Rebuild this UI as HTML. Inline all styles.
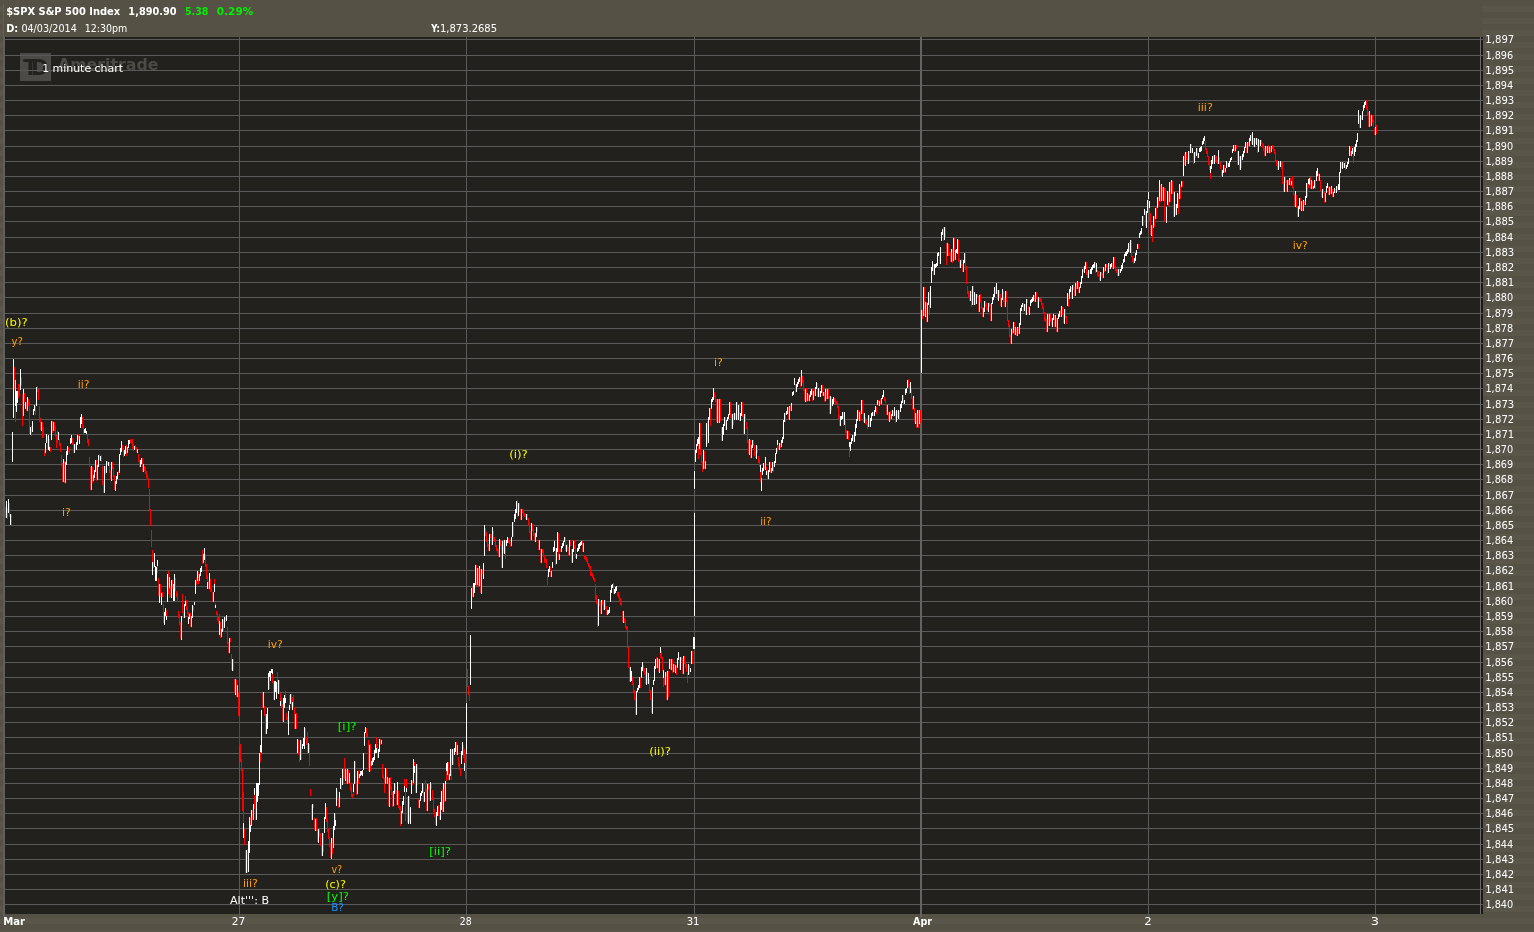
<!DOCTYPE html><html><head><meta charset="utf-8"><title>$SPX S&amp;P 500 Index - 1 minute chart</title>
<style>html,body{margin:0;padding:0;background:#555145;overflow:hidden}svg{display:block}text{white-space:pre}</style></head><body>
<svg width="1534" height="932" viewBox="0 0 1534 932" shape-rendering="crispEdges">
<defs><pattern id="stripes" x="0" y="0" width="4" height="12" patternUnits="userSpaceOnUse"><rect width="4" height="6" y="6" fill="#5a564a"/><rect width="4" height="6" y="0" fill="#555145"/></pattern></defs>
<rect width="1534" height="932" fill="#555145"/>
<rect x="1483" y="0" width="51" height="932" fill="url(#stripes)"/>
<rect x="0" y="0" width="3" height="932" fill="url(#stripes)"/>
<rect x="0" y="914" width="1534" height="18" fill="url(#stripes)"/>
<rect x="3" y="4" width="1" height="913" fill="#5e5f63"/>
<rect x="4" y="37" width="1479" height="877" fill="#22211d"/>
<rect x="3" y="37" width="2" height="880" fill="#5e5f63"/>
<rect x="1481" y="37" width="2" height="877" fill="#1a1916"/>
<rect x="20" y="53" width="31" height="28" fill="#4b4a46"/>
<text x="23.3" y="74.8" font-family="'DejaVu Sans', 'Liberation Sans', sans-serif" font-size="21" font-weight="bold" fill="#23221f">T</text>
<text x="30.9" y="74.8" font-family="'DejaVu Sans', 'Liberation Sans', sans-serif" font-size="21" font-weight="bold" fill="#23221f">D</text>
<text x="57.99" y="69.50" textLength="100.44" lengthAdjust="spacingAndGlyphs" font-family="'DejaVu Sans', 'Liberation Sans', sans-serif" font-size="16" font-weight="bold" fill="#4b4a46">Ameritrade</text>
<path fill="#5a5a5a" d="M5 39H1483v1H5zM5 55H1483v1H5zM5 70H1483v1H5zM5 85H1483v1H5zM5 100H1483v1H5zM5 115H1483v1H5zM5 130H1483v1H5zM5 146H1483v1H5zM5 161H1483v1H5zM5 176H1483v1H5zM5 191H1483v1H5zM5 206H1483v1H5zM5 221H1483v1H5zM5 237H1483v1H5zM5 252H1483v1H5zM5 267H1483v1H5zM5 282H1483v1H5zM5 297H1483v1H5zM5 313H1483v1H5zM5 328H1483v1H5zM5 343H1483v1H5zM5 358H1483v1H5zM5 373H1483v1H5zM5 388H1483v1H5zM5 404H1483v1H5zM5 419H1483v1H5zM5 434H1483v1H5zM5 449H1483v1H5zM5 464H1483v1H5zM5 479H1483v1H5zM5 495H1483v1H5zM5 510H1483v1H5zM5 525H1483v1H5zM5 540H1483v1H5zM5 555H1483v1H5zM5 570H1483v1H5zM5 586H1483v1H5zM5 601H1483v1H5zM5 616H1483v1H5zM5 631H1483v1H5zM5 646H1483v1H5zM5 662H1483v1H5zM5 677H1483v1H5zM5 692H1483v1H5zM5 707H1483v1H5zM5 722H1483v1H5zM5 737H1483v1H5zM5 753H1483v1H5zM5 768H1483v1H5zM5 783H1483v1H5zM5 798H1483v1H5zM5 813H1483v1H5zM5 828H1483v1H5zM5 844H1483v1H5zM5 859H1483v1H5zM5 874H1483v1H5zM5 889H1483v1H5zM5 904H1483v1H5z"/>
<path fill="#5a5a5a" d="M239 37h1v880h-1zM466 37h1v880h-1zM694 37h1v880h-1zM1148 37h1v880h-1zM1375 37h1v880h-1z"/>
<rect x="920" y="37" width="2" height="880" fill="#636363"/>
<rect x="1480" y="37" width="1" height="877" fill="#6a6a6a"/>
<path fill="#ff0000" d="M5 507h1v11h-1zM7 508h1v11h-1zM9 503h1v14h-1zM11 514h1v12h-1zM14 367h1v23h-1zM15 406h1v16h-1zM18 384h1v14h-1zM19 384h1v12h-1zM21 377h1v9h-1zM22 394h1v32h-1zM24 393h1v9h-1zM26 402h1v9h-1zM28 399h1v7h-1zM29 401h1v34h-1zM31 426h1v10h-1zM35 406h1v9h-1zM37 386h1v6h-1zM38 389h1v11h-1zM39 406h1v16h-1zM40 418h1v12h-1zM42 422h1v16h-1zM43 427h1v10h-1zM44 449h1v7h-1zM47 436h1v14h-1zM49 439h1v8h-1zM50 447h1v5h-1zM52 421h1v12h-1zM54 422h1v9h-1zM55 426h1v11h-1zM56 435h1v13h-1zM57 431h1v12h-1zM59 439h1v7h-1zM60 443h1v9h-1zM61 455h1v11h-1zM62 463h1v19h-1zM64 461h1v22h-1zM68 447h1v5h-1zM69 450h1v4h-1zM72 438h1v7h-1zM73 442h1v11h-1zM75 444h1v6h-1zM78 434h1v6h-1zM82 417h1v11h-1zM83 426h1v9h-1zM87 435h1v8h-1zM88 439h1v7h-1zM89 457h1v10h-1zM90 467h1v23h-1zM92 467h1v16h-1zM96 460h1v21h-1zM99 454h1v6h-1zM101 455h1v7h-1zM102 466h1v19h-1zM103 481h1v12h-1zM105 466h1v8h-1zM107 461h1v3h-1zM109 462h1v11h-1zM110 470h1v10h-1zM112 462h1v7h-1zM113 467h1v10h-1zM114 475h1v15h-1zM118 471h1v4h-1zM122 445h1v5h-1zM123 448h1v9h-1zM126 445h1v11h-1zM130 439h1v4h-1zM131 440h1v4h-1zM132 439h1v10h-1zM133 444h1v7h-1zM135 445h1v5h-1zM136 447h1v5h-1zM138 454h1v8h-1zM139 460h1v7h-1zM142 458h1v14h-1zM144 466h1v5h-1zM145 467h1v7h-1zM146 471h1v7h-1zM147 475h1v5h-1zM148 478h1v10h-1zM149 489h1v21h-1zM150 509h1v17h-1zM151 530h1v17h-1zM152 550h1v12h-1zM153 562h1v6h-1zM157 566h1v7h-1zM158 578h1v18h-1zM160 584h1v13h-1zM162 592h1v5h-1zM163 604h1v19h-1zM166 610h1v6h-1zM168 571h1v23h-1zM169 588h1v10h-1zM170 586h1v11h-1zM172 580h1v9h-1zM175 578h1v13h-1zM176 591h1v6h-1zM177 593h1v8h-1zM178 611h1v7h-1zM179 614h1v11h-1zM180 622h1v17h-1zM182 594h1v19h-1zM183 612h1v6h-1zM185 596h1v5h-1zM186 600h1v10h-1zM187 607h1v7h-1zM188 612h1v5h-1zM190 613h1v14h-1zM193 606h1v5h-1zM196 578h1v7h-1zM198 572h1v12h-1zM202 550h1v14h-1zM205 554h1v13h-1zM206 564h1v15h-1zM207 575h1v7h-1zM208 581h1v8h-1zM210 579h1v13h-1zM211 588h1v4h-1zM212 592h1v10h-1zM214 579h1v5h-1zM215 603h1v2h-1zM216 611h1v4h-1zM217 613h1v8h-1zM218 617h1v7h-1zM219 614h1v7h-1zM220 622h1v16h-1zM223 620h1v12h-1zM225 616h1v6h-1zM227 627h1v17h-1zM228 642h1v11h-1zM230 638h1v4h-1zM231 654h1v16h-1zM233 659h1v12h-1zM234 679h1v14h-1zM236 680h1v17h-1zM238 692h1v24h-1zM239 716h1v30h-1zM240 744h1v18h-1zM241 759h1v12h-1zM242 769h1v42h-1zM243 792h1v31h-1zM244 829h1v16h-1zM245 850h1v23h-1zM247 849h1v24h-1zM250 817h1v8h-1zM252 810h1v10h-1zM254 795h1v14h-1zM255 796h1v24h-1zM260 752h1v10h-1zM262 693h1v15h-1zM264 706h1v10h-1zM265 714h1v20h-1zM269 677h1v12h-1zM272 674h1v9h-1zM273 681h1v19h-1zM277 672h1v21h-1zM279 680h1v14h-1zM280 693h1v8h-1zM281 697h1v10h-1zM282 704h1v17h-1zM285 691h1v7h-1zM286 713h1v7h-1zM287 717h1v7h-1zM289 695h1v10h-1zM291 694h1v14h-1zM292 697h1v5h-1zM293 695h1v13h-1zM294 707h1v22h-1zM296 713h1v16h-1zM298 740h1v15h-1zM299 752h1v10h-1zM301 740h1v20h-1zM305 728h1v11h-1zM306 737h1v8h-1zM307 732h1v21h-1zM309 744h1v22h-1zM310 789h1v7h-1zM311 805h1v15h-1zM313 804h1v4h-1zM314 818h1v12h-1zM316 818h1v13h-1zM317 828h1v14h-1zM319 828h1v9h-1zM320 833h1v13h-1zM321 844h1v12h-1zM323 833h1v19h-1zM326 807h1v15h-1zM327 819h1v13h-1zM328 828h1v11h-1zM329 837h1v10h-1zM330 843h1v15h-1zM332 838h1v16h-1zM335 814h1v6h-1zM337 791h1v9h-1zM338 798h1v10h-1zM341 778h1v12h-1zM343 769h1v15h-1zM344 758h1v21h-1zM346 770h1v14h-1zM348 770h1v14h-1zM350 783h1v8h-1zM351 787h1v10h-1zM352 794h1v4h-1zM353 792h1v4h-1zM355 761h1v23h-1zM356 781h1v14h-1zM358 770h1v14h-1zM366 728h1v9h-1zM367 733h1v4h-1zM368 740h1v31h-1zM370 744h1v27h-1zM376 737h1v11h-1zM377 744h1v14h-1zM380 739h1v6h-1zM382 764h1v14h-1zM383 775h1v4h-1zM384 778h1v15h-1zM386 768h1v16h-1zM388 778h1v28h-1zM390 777h1v13h-1zM391 786h1v9h-1zM392 792h1v15h-1zM395 784h1v9h-1zM396 790h1v15h-1zM398 791h1v17h-1zM399 806h1v4h-1zM400 806h1v20h-1zM404 779h1v7h-1zM405 792h1v29h-1zM406 779h1v9h-1zM407 797h1v26h-1zM409 796h1v27h-1zM412 781h1v4h-1zM414 762h1v4h-1zM415 766h1v27h-1zM417 764h1v21h-1zM418 799h1v9h-1zM423 783h1v19h-1zM425 780h1v12h-1zM426 789h1v22h-1zM428 784h1v6h-1zM429 786h1v15h-1zM431 783h1v6h-1zM432 790h1v10h-1zM433 797h1v15h-1zM434 809h1v8h-1zM435 815h1v10h-1zM438 805h1v11h-1zM439 812h1v8h-1zM442 789h1v23h-1zM444 784h1v18h-1zM446 771h1v10h-1zM448 762h1v18h-1zM451 749h1v31h-1zM453 749h1v16h-1zM456 742h1v13h-1zM458 757h1v10h-1zM459 763h1v7h-1zM460 768h1v8h-1zM463 745h1v13h-1zM464 749h1v14h-1zM465 753h1v26h-1zM467 669h1v18h-1zM468 686h1v9h-1zM469 694h1v7h-1zM472 587h1v10h-1zM476 565h1v21h-1zM478 568h1v18h-1zM480 569h1v24h-1zM482 570h1v4h-1zM485 528h1v8h-1zM486 532h1v10h-1zM487 539h1v8h-1zM488 544h1v7h-1zM490 534h1v4h-1zM491 534h1v11h-1zM493 531h1v9h-1zM494 537h1v5h-1zM495 539h1v8h-1zM496 545h1v6h-1zM497 548h1v5h-1zM498 549h1v8h-1zM500 540h1v6h-1zM501 544h1v24h-1zM503 541h1v12h-1zM505 541h1v18h-1zM508 538h1v5h-1zM509 540h1v4h-1zM510 542h1v5h-1zM513 522h1v15h-1zM517 500h1v17h-1zM519 503h1v9h-1zM520 509h1v11h-1zM522 509h1v4h-1zM523 510h1v6h-1zM524 513h1v4h-1zM525 514h1v5h-1zM527 514h1v6h-1zM528 518h1v8h-1zM529 523h1v10h-1zM530 531h1v9h-1zM532 524h1v7h-1zM533 529h1v7h-1zM534 533h1v8h-1zM537 527h1v5h-1zM538 540h1v10h-1zM540 549h1v14h-1zM542 549h1v4h-1zM543 550h1v7h-1zM544 555h1v8h-1zM545 558h1v4h-1zM546 559h1v9h-1zM547 575h1v10h-1zM550 567h1v10h-1zM555 548h1v17h-1zM558 533h1v27h-1zM560 549h1v3h-1zM565 537h1v14h-1zM567 544h1v7h-1zM568 547h1v9h-1zM570 540h1v6h-1zM571 549h1v14h-1zM574 540h1v9h-1zM575 545h1v13h-1zM582 541h1v11h-1zM584 555h1v4h-1zM585 556h1v4h-1zM586 557h1v5h-1zM587 559h1v5h-1zM588 563h1v4h-1zM589 565h1v4h-1zM590 566h1v10h-1zM591 572h1v4h-1zM592 573h1v5h-1zM593 575h1v5h-1zM594 578h1v4h-1zM595 584h1v16h-1zM596 595h1v9h-1zM597 602h1v25h-1zM599 599h1v7h-1zM600 602h1v12h-1zM602 600h1v5h-1zM603 601h1v9h-1zM605 600h1v9h-1zM606 606h1v9h-1zM613 583h1v11h-1zM617 592h1v4h-1zM618 592h1v6h-1zM619 595h1v6h-1zM620 598h1v7h-1zM621 603h1v3h-1zM622 611h1v11h-1zM624 618h1v5h-1zM625 620h1v8h-1zM626 626h1v4h-1zM627 627h1v21h-1zM628 647h1v21h-1zM629 666h1v16h-1zM632 677h1v8h-1zM633 683h1v10h-1zM634 690h1v10h-1zM635 697h1v18h-1zM640 677h1v11h-1zM643 665h1v7h-1zM644 668h1v7h-1zM645 671h1v13h-1zM647 672h1v12h-1zM649 679h1v14h-1zM650 690h1v10h-1zM651 698h1v15h-1zM656 657h1v11h-1zM658 659h1v13h-1zM660 653h1v5h-1zM661 651h1v8h-1zM662 657h1v14h-1zM663 678h1v9h-1zM664 677h1v8h-1zM666 672h1v28h-1zM668 671h1v26h-1zM670 659h1v11h-1zM672 659h1v14h-1zM674 664h1v8h-1zM676 666h1v9h-1zM679 657h1v13h-1zM681 657h1v4h-1zM682 658h1v16h-1zM684 656h1v8h-1zM685 662h1v6h-1zM686 664h1v8h-1zM687 673h1v10h-1zM689 665h1v10h-1zM692 651h1v13h-1zM698 444h1v15h-1zM700 423h1v32h-1zM701 452h1v11h-1zM702 461h1v11h-1zM704 451h1v18h-1zM707 421h1v23h-1zM710 408h1v18h-1zM714 392h1v6h-1zM715 395h1v7h-1zM716 399h1v23h-1zM718 399h1v24h-1zM720 399h1v22h-1zM721 427h1v14h-1zM725 417h1v13h-1zM730 402h1v16h-1zM731 414h1v15h-1zM733 413h1v12h-1zM735 413h1v7h-1zM737 402h1v18h-1zM739 405h1v16h-1zM742 402h1v15h-1zM743 415h1v19h-1zM745 414h1v8h-1zM746 422h1v7h-1zM747 427h1v16h-1zM748 440h1v14h-1zM750 440h1v18h-1zM753 440h1v6h-1zM754 445h1v11h-1zM755 451h1v7h-1zM757 446h1v7h-1zM758 456h1v7h-1zM759 459h1v8h-1zM760 472h1v10h-1zM761 470h1v8h-1zM764 463h1v6h-1zM766 467h1v4h-1zM767 470h1v10h-1zM770 462h1v11h-1zM773 462h1v10h-1zM777 445h1v7h-1zM778 446h1v4h-1zM780 443h1v5h-1zM785 413h1v9h-1zM788 407h1v13h-1zM790 405h1v6h-1zM795 384h1v9h-1zM800 377h1v10h-1zM802 376h1v7h-1zM803 380h1v11h-1zM804 388h1v13h-1zM806 388h1v14h-1zM808 394h1v7h-1zM812 389h1v12h-1zM814 389h1v7h-1zM817 383h1v14h-1zM819 387h1v10h-1zM822 385h1v11h-1zM824 392h1v10h-1zM826 389h1v10h-1zM828 389h1v10h-1zM829 396h1v18h-1zM831 397h1v14h-1zM834 398h1v4h-1zM835 399h1v5h-1zM836 401h1v4h-1zM837 402h1v6h-1zM838 406h1v13h-1zM839 415h1v11h-1zM843 412h1v14h-1zM845 421h1v12h-1zM846 430h1v9h-1zM848 431h1v9h-1zM849 447h1v10h-1zM853 434h1v8h-1zM858 410h1v10h-1zM860 411h1v10h-1zM862 400h1v14h-1zM863 413h1v9h-1zM865 417h1v7h-1zM866 420h1v5h-1zM867 423h1v6h-1zM869 415h1v12h-1zM873 412h1v4h-1zM876 407h1v7h-1zM878 400h1v6h-1zM880 399h1v6h-1zM884 397h1v4h-1zM885 399h1v4h-1zM886 405h1v10h-1zM888 412h1v9h-1zM890 411h1v8h-1zM893 411h1v6h-1zM895 411h1v12h-1zM897 411h1v7h-1zM899 411h1v8h-1zM903 395h1v9h-1zM908 379h1v8h-1zM909 384h1v10h-1zM911 389h1v10h-1zM912 398h1v12h-1zM914 408h1v14h-1zM916 413h1v15h-1zM918 410h1v18h-1zM920 410h1v13h-1zM922 310h1v9h-1zM924 287h1v29h-1zM926 302h1v20h-1zM929 291h1v24h-1zM933 264h1v11h-1zM939 253h1v11h-1zM943 227h1v14h-1zM945 227h1v11h-1zM946 243h1v22h-1zM948 244h1v12h-1zM949 252h1v4h-1zM950 252h1v10h-1zM952 249h1v14h-1zM954 238h1v22h-1zM958 240h1v22h-1zM959 259h1v8h-1zM961 259h1v7h-1zM962 264h1v8h-1zM965 252h1v18h-1zM966 266h1v18h-1zM967 286h1v8h-1zM968 291h1v7h-1zM969 295h1v6h-1zM971 290h1v17h-1zM973 286h1v19h-1zM975 294h1v11h-1zM977 294h1v4h-1zM978 296h1v16h-1zM980 294h1v8h-1zM981 301h1v8h-1zM982 307h1v10h-1zM985 301h1v6h-1zM986 303h1v7h-1zM987 307h1v4h-1zM989 303h1v4h-1zM990 304h1v17h-1zM995 286h1v8h-1zM997 290h1v10h-1zM999 290h1v8h-1zM1000 294h1v12h-1zM1003 291h1v11h-1zM1004 298h1v9h-1zM1006 291h1v11h-1zM1007 300h1v21h-1zM1008 320h1v7h-1zM1009 325h1v12h-1zM1010 335h1v9h-1zM1012 330h1v4h-1zM1014 322h1v13h-1zM1016 328h1v8h-1zM1018 327h1v7h-1zM1023 303h1v9h-1zM1025 304h1v11h-1zM1027 299h1v4h-1zM1028 306h1v8h-1zM1034 295h1v7h-1zM1036 292h1v7h-1zM1037 297h1v11h-1zM1039 297h1v4h-1zM1040 298h1v4h-1zM1041 299h1v6h-1zM1042 303h1v6h-1zM1043 307h1v7h-1zM1044 312h1v9h-1zM1045 317h1v5h-1zM1046 319h1v13h-1zM1048 314h1v12h-1zM1050 314h1v8h-1zM1051 318h1v7h-1zM1054 315h1v12h-1zM1056 318h1v14h-1zM1060 310h1v7h-1zM1062 307h1v8h-1zM1063 313h1v10h-1zM1065 309h1v9h-1zM1066 316h1v8h-1zM1068 294h1v13h-1zM1071 287h1v12h-1zM1073 284h1v6h-1zM1074 287h1v9h-1zM1076 282h1v7h-1zM1078 282h1v11h-1zM1083 268h1v4h-1zM1086 262h1v13h-1zM1087 272h1v6h-1zM1089 270h1v4h-1zM1095 262h1v11h-1zM1097 270h1v6h-1zM1098 271h1v6h-1zM1099 274h1v7h-1zM1101 272h1v4h-1zM1102 273h1v5h-1zM1104 267h1v5h-1zM1106 264h1v4h-1zM1107 265h1v9h-1zM1109 263h1v6h-1zM1112 263h1v6h-1zM1114 257h1v11h-1zM1115 266h1v5h-1zM1116 269h1v4h-1zM1117 269h1v7h-1zM1119 269h1v7h-1zM1129 242h1v11h-1zM1131 240h1v17h-1zM1132 256h1v6h-1zM1133 259h1v5h-1zM1138 244h1v5h-1zM1143 216h1v10h-1zM1145 211h1v15h-1zM1149 208h1v14h-1zM1150 213h1v22h-1zM1152 225h1v17h-1zM1154 216h1v11h-1zM1156 207h1v12h-1zM1158 197h1v10h-1zM1160 185h1v17h-1zM1162 187h1v14h-1zM1164 188h1v34h-1zM1165 188h1v13h-1zM1168 192h1v14h-1zM1170 182h1v20h-1zM1172 181h1v13h-1zM1173 192h1v25h-1zM1175 204h1v11h-1zM1178 194h1v20h-1zM1180 185h1v14h-1zM1182 181h1v6h-1zM1184 154h1v11h-1zM1186 152h1v8h-1zM1187 158h1v6h-1zM1189 151h1v12h-1zM1191 144h1v9h-1zM1193 153h1v11h-1zM1195 152h1v6h-1zM1197 148h1v10h-1zM1205 141h1v9h-1zM1206 148h1v6h-1zM1207 151h1v6h-1zM1208 156h1v9h-1zM1209 163h1v7h-1zM1210 173h1v6h-1zM1213 155h1v9h-1zM1215 155h1v6h-1zM1216 156h1v7h-1zM1217 160h1v4h-1zM1219 157h1v7h-1zM1220 162h1v7h-1zM1221 169h1v8h-1zM1224 165h1v8h-1zM1227 161h1v7h-1zM1234 145h1v7h-1zM1236 145h1v4h-1zM1237 151h1v14h-1zM1239 156h1v14h-1zM1241 156h1v12h-1zM1246 143h1v10h-1zM1248 142h1v4h-1zM1251 134h1v10h-1zM1253 138h1v8h-1zM1255 138h1v6h-1zM1257 138h1v15h-1zM1259 140h1v7h-1zM1261 140h1v4h-1zM1262 143h1v5h-1zM1263 144h1v7h-1zM1264 148h1v8h-1zM1266 146h1v5h-1zM1268 145h1v8h-1zM1270 147h1v6h-1zM1272 145h1v4h-1zM1273 147h1v4h-1zM1274 149h1v5h-1zM1275 152h1v9h-1zM1276 160h1v6h-1zM1277 162h1v8h-1zM1279 161h1v6h-1zM1281 161h1v8h-1zM1282 162h1v22h-1zM1283 182h1v9h-1zM1285 177h1v6h-1zM1286 180h1v12h-1zM1288 180h1v5h-1zM1290 178h1v8h-1zM1292 176h1v12h-1zM1293 187h1v8h-1zM1294 194h1v12h-1zM1296 195h1v13h-1zM1297 206h1v11h-1zM1300 198h1v12h-1zM1302 201h1v10h-1zM1304 201h1v4h-1zM1307 183h1v14h-1zM1308 184h1v4h-1zM1310 177h1v12h-1zM1312 181h1v8h-1zM1315 180h1v9h-1zM1318 173h1v8h-1zM1320 180h1v11h-1zM1321 190h1v7h-1zM1323 189h1v4h-1zM1324 192h1v11h-1zM1328 186h1v9h-1zM1330 187h1v7h-1zM1332 189h1v8h-1zM1335 189h1v4h-1zM1337 186h1v6h-1zM1341 161h1v7h-1zM1343 161h1v7h-1zM1345 162h1v8h-1zM1350 146h1v10h-1zM1353 147h1v16h-1zM1359 115h1v13h-1zM1361 116h1v4h-1zM1366 100h1v10h-1zM1367 106h1v10h-1zM1368 112h1v15h-1zM1370 115h1v11h-1zM1372 115h1v8h-1zM1373 120h1v7h-1zM1374 128h1v7h-1zM1376 125h1v9h-1z"/><path fill="#ffffff" d="M6 501h1v17h-1zM8 499h1v14h-1zM10 514h1v11h-1zM12 432h1v30h-1zM13 359h1v59h-1zM15 380h1v26h-1zM16 391h1v21h-1zM17 391h1v12h-1zM20 369h1v21h-1zM23 389h1v27h-1zM25 402h1v7h-1zM27 397h1v14h-1zM30 427h1v8h-1zM32 421h1v11h-1zM33 409h1v6h-1zM34 405h1v6h-1zM36 387h1v19h-1zM41 422h1v9h-1zM45 443h1v10h-1zM46 434h1v9h-1zM48 435h1v15h-1zM49 447h1v4h-1zM51 421h1v19h-1zM53 422h1v9h-1zM58 432h1v8h-1zM63 459h1v23h-1zM65 462h1v21h-1zM66 451h1v14h-1zM67 446h1v9h-1zM70 438h1v6h-1zM71 435h1v8h-1zM74 444h1v9h-1zM76 442h1v8h-1zM77 435h1v10h-1zM79 436h1v8h-1zM80 417h1v11h-1zM81 414h1v10h-1zM84 429h1v4h-1zM85 428h1v5h-1zM86 431h1v3h-1zM91 466h1v24h-1zM93 475h1v6h-1zM94 470h1v8h-1zM95 460h1v12h-1zM97 465h1v15h-1zM98 455h1v12h-1zM100 456h1v5h-1zM104 466h1v27h-1zM106 461h1v12h-1zM108 462h1v4h-1zM111 462h1v19h-1zM115 481h1v10h-1zM116 476h1v8h-1zM117 472h1v7h-1zM119 454h1v19h-1zM120 448h1v7h-1zM121 441h1v11h-1zM124 450h1v6h-1zM125 446h1v8h-1zM127 447h1v6h-1zM128 440h1v8h-1zM129 440h1v4h-1zM134 446h1v4h-1zM137 449h1v4h-1zM140 460h1v7h-1zM141 458h1v6h-1zM143 464h1v8h-1zM152 562h1v13h-1zM154 553h1v14h-1zM155 566h1v15h-1zM156 567h1v14h-1zM157 560h1v6h-1zM159 584h1v19h-1zM161 593h1v12h-1zM164 612h1v13h-1zM165 608h1v8h-1zM166 616h1v4h-1zM167 574h1v28h-1zM169 577h1v11h-1zM171 580h1v18h-1zM173 584h1v17h-1zM174 574h1v27h-1zM181 616h1v24h-1zM184 604h1v14h-1zM185 601h1v5h-1zM188 617h1v7h-1zM189 614h1v5h-1zM191 616h1v11h-1zM192 605h1v13h-1zM194 602h1v3h-1zM195 580h1v14h-1zM197 571h1v10h-1zM199 574h1v7h-1zM200 568h1v8h-1zM201 566h1v6h-1zM203 554h1v9h-1zM204 548h1v12h-1zM207 582h1v7h-1zM209 573h1v16h-1zM213 592h1v10h-1zM214 584h1v8h-1zM215 605h1v3h-1zM219 621h1v14h-1zM221 629h1v8h-1zM222 619h1v13h-1zM224 617h1v11h-1zM226 615h1v6h-1zM229 638h1v15h-1zM232 659h1v12h-1zM235 679h1v16h-1zM237 685h1v12h-1zM243 823h1v15h-1zM246 850h1v23h-1zM248 841h1v31h-1zM249 817h1v36h-1zM250 825h1v7h-1zM251 810h1v16h-1zM253 804h1v16h-1zM254 788h1v7h-1zM256 783h1v37h-1zM257 783h1v19h-1zM258 783h1v13h-1zM259 753h1v32h-1zM260 745h1v7h-1zM261 710h1v43h-1zM263 692h1v16h-1zM266 714h1v20h-1zM267 708h1v21h-1zM268 673h1v17h-1zM269 671h1v6h-1zM270 671h1v10h-1zM271 669h1v4h-1zM272 669h1v5h-1zM274 681h1v19h-1zM275 681h1v11h-1zM276 682h1v17h-1zM278 680h1v14h-1zM280 701h1v5h-1zM283 698h1v24h-1zM284 695h1v13h-1zM285 698h1v5h-1zM288 711h1v24h-1zM289 705h1v5h-1zM290 694h1v10h-1zM292 702h1v8h-1zM295 714h1v15h-1zM297 739h1v14h-1zM300 740h1v20h-1zM302 744h1v5h-1zM303 738h1v8h-1zM304 727h1v22h-1zM308 743h1v10h-1zM312 804h1v16h-1zM315 819h1v12h-1zM318 829h1v14h-1zM322 833h1v23h-1zM324 817h1v16h-1zM325 803h1v16h-1zM331 838h1v21h-1zM333 826h1v22h-1zM334 813h1v17h-1zM335 820h1v6h-1zM336 788h1v18h-1zM339 792h1v15h-1zM340 778h1v11h-1zM342 769h1v16h-1zM345 769h1v12h-1zM347 769h1v15h-1zM349 773h1v10h-1zM353 784h1v8h-1zM354 761h1v23h-1zM357 771h1v23h-1zM359 774h1v4h-1zM360 771h1v5h-1zM361 771h1v4h-1zM362 770h1v6h-1zM363 753h1v17h-1zM364 732h1v14h-1zM365 727h1v6h-1zM369 745h1v27h-1zM371 761h1v5h-1zM372 758h1v7h-1zM373 757h1v5h-1zM374 750h1v10h-1zM375 744h1v9h-1zM376 748h1v5h-1zM378 749h1v9h-1zM379 739h1v13h-1zM381 740h1v4h-1zM385 768h1v16h-1zM387 777h1v7h-1zM389 778h1v29h-1zM393 791h1v15h-1zM394 783h1v11h-1zM397 782h1v23h-1zM401 811h1v13h-1zM402 801h1v12h-1zM403 796h1v9h-1zM404 786h1v6h-1zM406 788h1v4h-1zM408 796h1v28h-1zM410 807h1v17h-1zM411 780h1v14h-1zM413 759h1v24h-1zM414 766h1v7h-1zM416 764h1v29h-1zM419 800h1v8h-1zM420 793h1v8h-1zM421 791h1v5h-1zM422 783h1v10h-1zM424 792h1v10h-1zM427 784h1v27h-1zM430 782h1v19h-1zM436 812h1v14h-1zM437 806h1v10h-1zM440 802h1v18h-1zM441 791h1v19h-1zM443 783h1v29h-1zM445 781h1v20h-1zM446 763h1v8h-1zM447 762h1v13h-1zM449 774h1v6h-1zM450 749h1v27h-1zM452 749h1v16h-1zM454 748h1v7h-1zM455 742h1v10h-1zM457 745h1v10h-1zM461 751h1v13h-1zM462 742h1v13h-1zM464 763h1v8h-1zM466 703h1v51h-1zM470 635h1v50h-1zM471 588h1v21h-1zM473 583h1v14h-1zM474 583h1v10h-1zM475 565h1v20h-1zM477 568h1v17h-1zM479 566h1v20h-1zM481 569h1v25h-1zM483 563h1v16h-1zM484 525h1v31h-1zM489 534h1v17h-1zM492 527h1v18h-1zM499 539h1v18h-1zM502 541h1v27h-1zM504 540h1v14h-1zM506 540h1v6h-1zM507 537h1v6h-1zM511 537h1v9h-1zM512 522h1v15h-1zM514 514h1v8h-1zM515 509h1v10h-1zM516 501h1v12h-1zM518 503h1v13h-1zM521 509h1v11h-1zM526 514h1v6h-1zM531 523h1v17h-1zM535 533h1v9h-1zM536 527h1v10h-1zM539 540h1v10h-1zM541 549h1v14h-1zM548 569h1v8h-1zM549 566h1v6h-1zM551 571h1v6h-1zM552 562h1v6h-1zM553 547h1v5h-1zM554 541h1v10h-1zM556 548h1v16h-1zM557 532h1v20h-1zM559 554h1v6h-1zM561 546h1v6h-1zM562 543h1v5h-1zM563 541h1v5h-1zM564 537h1v5h-1zM566 545h1v7h-1zM569 540h1v15h-1zM572 549h1v14h-1zM573 541h1v11h-1zM576 554h1v5h-1zM577 548h1v4h-1zM578 544h1v7h-1zM579 543h1v6h-1zM580 542h1v4h-1zM581 541h1v4h-1zM583 543h1v9h-1zM598 599h1v27h-1zM601 600h1v14h-1zM604 600h1v10h-1zM607 610h1v5h-1zM608 610h1v4h-1zM609 607h1v6h-1zM610 590h1v12h-1zM611 585h1v8h-1zM612 584h1v4h-1zM614 589h1v5h-1zM615 587h1v6h-1zM616 586h1v5h-1zM623 611h1v12h-1zM630 667h1v15h-1zM631 671h1v10h-1zM636 691h1v24h-1zM637 688h1v4h-1zM638 685h1v5h-1zM639 677h1v11h-1zM641 667h1v11h-1zM642 662h1v9h-1zM646 668h1v17h-1zM648 673h1v11h-1zM652 687h1v27h-1zM653 680h1v5h-1zM654 666h1v15h-1zM655 659h1v10h-1zM657 658h1v10h-1zM659 659h1v14h-1zM660 647h1v6h-1zM663 670h1v8h-1zM665 672h1v13h-1zM667 671h1v29h-1zM669 659h1v10h-1zM671 659h1v11h-1zM673 664h1v8h-1zM675 665h1v8h-1zM677 658h1v10h-1zM678 652h1v8h-1zM680 657h1v13h-1zM683 656h1v18h-1zM688 664h1v11h-1zM690 668h1v4h-1zM691 651h1v13h-1zM693 637h1v12h-1zM694 471h1v18h-1zM694 513h1v103h-1zM694 637h1v12h-1zM695 450h1v12h-1zM696 444h1v9h-1zM697 439h1v7h-1zM698 437h1v7h-1zM699 423h1v26h-1zM703 450h1v19h-1zM705 461h1v8h-1zM706 423h1v24h-1zM708 417h1v26h-1zM709 408h1v12h-1zM711 399h1v10h-1zM712 397h1v5h-1zM713 388h1v12h-1zM717 399h1v24h-1zM719 399h1v24h-1zM722 427h1v14h-1zM723 424h1v11h-1zM724 417h1v9h-1zM726 420h1v10h-1zM727 417h1v4h-1zM728 414h1v5h-1zM729 402h1v13h-1zM732 414h1v15h-1zM734 413h1v7h-1zM736 402h1v18h-1zM738 405h1v15h-1zM740 413h1v8h-1zM741 402h1v14h-1zM744 414h1v20h-1zM749 439h1v16h-1zM751 445h1v13h-1zM752 440h1v8h-1zM756 445h1v14h-1zM760 465h1v7h-1zM761 478h1v13h-1zM762 468h1v7h-1zM763 463h1v8h-1zM765 457h1v13h-1zM766 471h1v4h-1zM768 470h1v9h-1zM769 462h1v10h-1zM771 468h1v5h-1zM772 462h1v9h-1zM774 461h1v6h-1zM775 453h1v10h-1zM776 448h1v6h-1zM777 440h1v5h-1zM779 443h1v7h-1zM781 440h1v7h-1zM782 437h1v6h-1zM783 420h1v19h-1zM784 413h1v9h-1zM786 411h1v4h-1zM787 407h1v7h-1zM789 406h1v14h-1zM791 403h1v8h-1zM792 392h1v4h-1zM793 391h1v4h-1zM794 378h1v7h-1zM796 384h1v8h-1zM797 382h1v5h-1zM798 379h1v5h-1zM799 377h1v5h-1zM801 370h1v16h-1zM805 389h1v13h-1zM807 393h1v8h-1zM809 395h1v6h-1zM810 391h1v6h-1zM811 389h1v6h-1zM813 391h1v9h-1zM815 387h1v9h-1zM816 382h1v7h-1zM818 388h1v9h-1zM820 391h1v6h-1zM821 385h1v8h-1zM823 392h1v4h-1zM825 389h1v12h-1zM827 389h1v10h-1zM830 396h1v18h-1zM832 399h1v7h-1zM833 397h1v7h-1zM840 416h1v10h-1zM841 416h1v4h-1zM842 412h1v7h-1zM844 412h1v13h-1zM847 431h1v8h-1zM849 442h1v5h-1zM850 442h1v9h-1zM851 438h1v6h-1zM852 435h1v6h-1zM854 432h1v10h-1zM855 424h1v12h-1zM856 419h1v9h-1zM857 410h1v11h-1zM859 412h1v9h-1zM861 400h1v14h-1zM864 413h1v10h-1zM868 415h1v12h-1zM870 418h1v9h-1zM871 413h1v8h-1zM872 412h1v4h-1zM874 410h1v6h-1zM875 406h1v6h-1zM877 400h1v5h-1zM879 401h1v5h-1zM881 398h1v6h-1zM882 395h1v4h-1zM883 390h1v7h-1zM887 405h1v10h-1zM889 412h1v10h-1zM891 414h1v5h-1zM892 410h1v6h-1zM894 407h1v9h-1zM896 410h1v12h-1zM898 410h1v9h-1zM900 404h1v8h-1zM901 401h1v7h-1zM902 395h1v8h-1zM904 400h1v4h-1zM905 389h1v6h-1zM906 388h1v5h-1zM907 380h1v8h-1zM910 382h1v11h-1zM913 396h1v13h-1zM915 413h1v11h-1zM917 410h1v17h-1zM919 410h1v14h-1zM921 310h1v63h-1zM923 287h1v29h-1zM925 302h1v15h-1zM927 303h1v19h-1zM928 292h1v13h-1zM930 286h1v22h-1zM931 267h1v16h-1zM932 261h1v10h-1zM934 264h1v11h-1zM935 264h1v4h-1zM936 263h1v4h-1zM937 253h1v13h-1zM938 252h1v4h-1zM940 247h1v17h-1zM941 232h1v9h-1zM942 229h1v6h-1zM944 227h1v13h-1zM947 243h1v13h-1zM951 249h1v13h-1zM953 238h1v23h-1zM955 250h1v10h-1zM956 249h1v4h-1zM957 239h1v15h-1zM960 260h1v8h-1zM963 260h1v12h-1zM964 253h1v10h-1zM970 291h1v10h-1zM972 286h1v19h-1zM974 292h1v13h-1zM976 294h1v10h-1zM979 295h1v17h-1zM983 308h1v9h-1zM984 301h1v11h-1zM988 303h1v9h-1zM991 303h1v18h-1zM992 297h1v7h-1zM993 294h1v6h-1zM994 287h1v10h-1zM996 283h1v11h-1zM998 290h1v11h-1zM1001 298h1v9h-1zM1002 289h1v11h-1zM1005 291h1v16h-1zM1011 329h1v15h-1zM1013 322h1v11h-1zM1015 327h1v8h-1zM1017 327h1v9h-1zM1019 323h1v11h-1zM1020 308h1v17h-1zM1021 305h1v6h-1zM1022 303h1v4h-1zM1024 304h1v7h-1zM1026 299h1v16h-1zM1029 307h1v8h-1zM1030 300h1v6h-1zM1031 299h1v4h-1zM1032 297h1v5h-1zM1033 295h1v6h-1zM1035 292h1v10h-1zM1038 297h1v11h-1zM1047 314h1v18h-1zM1049 314h1v12h-1zM1052 318h1v9h-1zM1053 314h1v6h-1zM1055 315h1v12h-1zM1057 318h1v14h-1zM1058 314h1v5h-1zM1059 311h1v6h-1zM1061 306h1v11h-1zM1064 309h1v15h-1zM1067 293h1v13h-1zM1069 289h1v10h-1zM1070 286h1v6h-1zM1072 285h1v14h-1zM1075 283h1v13h-1zM1077 281h1v8h-1zM1079 287h1v6h-1zM1080 282h1v6h-1zM1081 276h1v8h-1zM1082 269h1v9h-1zM1084 266h1v7h-1zM1085 262h1v7h-1zM1088 270h1v8h-1zM1090 269h1v5h-1zM1091 267h1v7h-1zM1092 265h1v5h-1zM1093 264h1v4h-1zM1094 262h1v6h-1zM1096 263h1v9h-1zM1100 272h1v9h-1zM1103 267h1v11h-1zM1105 264h1v7h-1zM1108 263h1v10h-1zM1110 264h1v5h-1zM1111 263h1v4h-1zM1113 257h1v12h-1zM1118 269h1v7h-1zM1120 269h1v4h-1zM1121 265h1v6h-1zM1122 263h1v6h-1zM1123 259h1v4h-1zM1124 254h1v8h-1zM1125 252h1v4h-1zM1126 251h1v5h-1zM1127 249h1v5h-1zM1128 243h1v9h-1zM1130 240h1v13h-1zM1134 258h1v5h-1zM1135 253h1v8h-1zM1136 250h1v5h-1zM1137 244h1v5h-1zM1139 233h1v5h-1zM1140 231h1v4h-1zM1141 228h1v6h-1zM1142 216h1v10h-1zM1144 209h1v6h-1zM1146 211h1v17h-1zM1147 200h1v13h-1zM1148 192h1v7h-1zM1149 201h1v7h-1zM1151 225h1v11h-1zM1153 216h1v12h-1zM1155 208h1v11h-1zM1157 197h1v11h-1zM1159 180h1v21h-1zM1161 184h1v17h-1zM1163 187h1v14h-1zM1166 207h1v16h-1zM1167 191h1v14h-1zM1169 182h1v20h-1zM1171 180h1v14h-1zM1174 192h1v25h-1zM1176 204h1v11h-1zM1177 193h1v15h-1zM1179 184h1v15h-1zM1181 181h1v6h-1zM1183 156h1v20h-1zM1185 152h1v14h-1zM1188 151h1v13h-1zM1190 144h1v9h-1zM1192 148h1v5h-1zM1194 152h1v11h-1zM1196 148h1v8h-1zM1198 153h1v5h-1zM1199 148h1v4h-1zM1200 147h1v5h-1zM1201 146h1v5h-1zM1202 141h1v4h-1zM1203 138h1v6h-1zM1204 136h1v5h-1zM1210 166h1v7h-1zM1211 160h1v9h-1zM1212 156h1v8h-1zM1214 155h1v9h-1zM1218 150h1v14h-1zM1222 170h1v7h-1zM1223 165h1v8h-1zM1225 168h1v4h-1zM1226 161h1v7h-1zM1228 163h1v4h-1zM1229 161h1v6h-1zM1230 158h1v4h-1zM1231 157h1v3h-1zM1232 149h1v4h-1zM1233 145h1v6h-1zM1235 145h1v6h-1zM1238 151h1v14h-1zM1240 156h1v14h-1zM1242 154h1v6h-1zM1243 151h1v6h-1zM1244 147h1v6h-1zM1245 142h1v6h-1zM1247 142h1v11h-1zM1249 138h1v8h-1zM1250 135h1v6h-1zM1252 132h1v13h-1zM1254 138h1v9h-1zM1256 138h1v7h-1zM1258 139h1v13h-1zM1260 140h1v6h-1zM1265 146h1v10h-1zM1267 146h1v7h-1zM1269 147h1v6h-1zM1271 146h1v6h-1zM1278 161h1v9h-1zM1280 161h1v6h-1zM1284 177h1v15h-1zM1287 180h1v12h-1zM1289 178h1v7h-1zM1291 181h1v4h-1zM1295 191h1v16h-1zM1298 206h1v11h-1zM1299 198h1v11h-1zM1301 201h1v10h-1zM1303 200h1v11h-1zM1305 196h1v9h-1zM1306 183h1v15h-1zM1308 179h1v5h-1zM1309 178h1v7h-1zM1311 180h1v9h-1zM1313 186h1v3h-1zM1314 180h1v8h-1zM1316 171h1v10h-1zM1317 168h1v8h-1zM1319 174h1v7h-1zM1322 189h1v9h-1zM1325 193h1v9h-1zM1326 186h1v7h-1zM1327 183h1v5h-1zM1329 187h1v8h-1zM1331 186h1v8h-1zM1333 192h1v5h-1zM1334 188h1v5h-1zM1336 186h1v7h-1zM1338 184h1v6h-1zM1339 172h1v18h-1zM1340 162h1v11h-1zM1342 162h1v7h-1zM1344 163h1v5h-1zM1346 165h1v4h-1zM1347 162h1v5h-1zM1348 158h1v6h-1zM1349 146h1v10h-1zM1351 151h1v5h-1zM1352 148h1v6h-1zM1354 147h1v9h-1zM1355 144h1v8h-1zM1356 140h1v7h-1zM1357 133h1v9h-1zM1358 110h1v14h-1zM1360 115h1v13h-1zM1362 111h1v9h-1zM1363 105h1v6h-1zM1364 102h1v6h-1zM1365 101h1v4h-1zM1369 111h1v16h-1zM1371 115h1v11h-1zM1375 127h1v8h-1z"/>
<text x="6.20" y="15.00" textLength="114.00" lengthAdjust="spacingAndGlyphs" font-family="'DejaVu Sans', 'Liberation Sans', sans-serif" font-size="11" font-weight="bold" fill="#ffffff">$SPX S&amp;P 500 Index</text>
<text x="128.36" y="15.00" textLength="48.26" lengthAdjust="spacingAndGlyphs" font-family="'DejaVu Sans', 'Liberation Sans', sans-serif" font-size="11" font-weight="bold" fill="#ffffff">1,890.90</text>
<text x="185.00" y="15.00" textLength="23.40" lengthAdjust="spacingAndGlyphs" font-family="'DejaVu Sans', 'Liberation Sans', sans-serif" font-size="11" font-weight="bold" fill="#00f000">5.38</text>
<text x="216.80" y="15.00" textLength="36.40" lengthAdjust="spacingAndGlyphs" font-family="'DejaVu Sans', 'Liberation Sans', sans-serif" font-size="11" font-weight="bold" fill="#00f000">0.29%</text>
<text x="6.18" y="32.00" textLength="12.10" lengthAdjust="spacingAndGlyphs" font-family="'DejaVu Sans', 'Liberation Sans', sans-serif" font-size="11" font-weight="bold" fill="#ffffff">D:</text>
<text x="21.39" y="32.00" textLength="55.42" lengthAdjust="spacingAndGlyphs" font-family="'DejaVu Sans', 'Liberation Sans', sans-serif" font-size="11" font-weight="normal" fill="#ffffff">04/03/2014</text>
<text x="84.78" y="32.00" textLength="42.44" lengthAdjust="spacingAndGlyphs" font-family="'DejaVu Sans', 'Liberation Sans', sans-serif" font-size="11" font-weight="normal" fill="#ffffff">12:30pm</text>
<text x="431.15" y="32.00" textLength="8.84" lengthAdjust="spacingAndGlyphs" font-family="'DejaVu Sans', 'Liberation Sans', sans-serif" font-size="11" font-weight="bold" fill="#ffffff">Y:</text>
<text x="439.96" y="32.00" textLength="57.06" lengthAdjust="spacingAndGlyphs" font-family="'DejaVu Sans', 'Liberation Sans', sans-serif" font-size="11" font-weight="normal" fill="#ffffff">1,873.2685</text>
<text x="3.19" y="925.00" textLength="21.81" lengthAdjust="spacingAndGlyphs" font-family="'DejaVu Sans', 'Liberation Sans', sans-serif" font-size="11" font-weight="bold" fill="#ffffff">Mar</text>
<text x="231.69" y="925.00" textLength="13.56" lengthAdjust="spacingAndGlyphs" font-family="'DejaVu Sans', 'Liberation Sans', sans-serif" font-size="11" font-weight="normal" fill="#ffffff">27</text>
<text x="459.74" y="925.00" textLength="11.91" lengthAdjust="spacingAndGlyphs" font-family="'DejaVu Sans', 'Liberation Sans', sans-serif" font-size="11" font-weight="normal" fill="#ffffff">28</text>
<text x="686.70" y="925.00" textLength="12.83" lengthAdjust="spacingAndGlyphs" font-family="'DejaVu Sans', 'Liberation Sans', sans-serif" font-size="11" font-weight="normal" fill="#ffffff">31</text>
<text x="912.97" y="925.00" textLength="19.03" lengthAdjust="spacingAndGlyphs" font-family="'DejaVu Sans', 'Liberation Sans', sans-serif" font-size="11" font-weight="bold" fill="#ffffff">Apr</text>
<text x="1144.21" y="925.00" textLength="7.41" lengthAdjust="spacingAndGlyphs" font-family="'DejaVu Sans', 'Liberation Sans', sans-serif" font-size="11" font-weight="normal" fill="#ffffff">2</text>
<text x="1370.82" y="925.00" textLength="8.21" lengthAdjust="spacingAndGlyphs" font-family="'DejaVu Sans', 'Liberation Sans', sans-serif" font-size="11" font-weight="normal" fill="#ffffff">3</text>
<text x="1485.33" y="43.00" textLength="28.92" lengthAdjust="spacingAndGlyphs" font-family="'DejaVu Sans', 'Liberation Sans', sans-serif" font-size="11" font-weight="normal" fill="#ffffff">1,897</text>
<text x="1485.38" y="59.00" textLength="27.84" lengthAdjust="spacingAndGlyphs" font-family="'DejaVu Sans', 'Liberation Sans', sans-serif" font-size="11" font-weight="normal" fill="#ffffff">1,896</text>
<text x="1485.33" y="74.00" textLength="28.92" lengthAdjust="spacingAndGlyphs" font-family="'DejaVu Sans', 'Liberation Sans', sans-serif" font-size="11" font-weight="normal" fill="#ffffff">1,895</text>
<text x="1485.38" y="89.00" textLength="27.84" lengthAdjust="spacingAndGlyphs" font-family="'DejaVu Sans', 'Liberation Sans', sans-serif" font-size="11" font-weight="normal" fill="#ffffff">1,894</text>
<text x="1485.33" y="104.00" textLength="28.92" lengthAdjust="spacingAndGlyphs" font-family="'DejaVu Sans', 'Liberation Sans', sans-serif" font-size="11" font-weight="normal" fill="#ffffff">1,893</text>
<text x="1485.33" y="119.00" textLength="28.92" lengthAdjust="spacingAndGlyphs" font-family="'DejaVu Sans', 'Liberation Sans', sans-serif" font-size="11" font-weight="normal" fill="#ffffff">1,892</text>
<text x="1485.33" y="134.00" textLength="28.92" lengthAdjust="spacingAndGlyphs" font-family="'DejaVu Sans', 'Liberation Sans', sans-serif" font-size="11" font-weight="normal" fill="#ffffff">1,891</text>
<text x="1485.38" y="150.00" textLength="27.84" lengthAdjust="spacingAndGlyphs" font-family="'DejaVu Sans', 'Liberation Sans', sans-serif" font-size="11" font-weight="normal" fill="#ffffff">1,890</text>
<text x="1485.38" y="165.00" textLength="27.84" lengthAdjust="spacingAndGlyphs" font-family="'DejaVu Sans', 'Liberation Sans', sans-serif" font-size="11" font-weight="normal" fill="#ffffff">1,889</text>
<text x="1485.38" y="180.00" textLength="27.84" lengthAdjust="spacingAndGlyphs" font-family="'DejaVu Sans', 'Liberation Sans', sans-serif" font-size="11" font-weight="normal" fill="#ffffff">1,888</text>
<text x="1485.33" y="195.00" textLength="28.92" lengthAdjust="spacingAndGlyphs" font-family="'DejaVu Sans', 'Liberation Sans', sans-serif" font-size="11" font-weight="normal" fill="#ffffff">1,887</text>
<text x="1485.38" y="210.00" textLength="27.84" lengthAdjust="spacingAndGlyphs" font-family="'DejaVu Sans', 'Liberation Sans', sans-serif" font-size="11" font-weight="normal" fill="#ffffff">1,886</text>
<text x="1485.33" y="225.00" textLength="28.92" lengthAdjust="spacingAndGlyphs" font-family="'DejaVu Sans', 'Liberation Sans', sans-serif" font-size="11" font-weight="normal" fill="#ffffff">1,885</text>
<text x="1485.38" y="241.00" textLength="27.84" lengthAdjust="spacingAndGlyphs" font-family="'DejaVu Sans', 'Liberation Sans', sans-serif" font-size="11" font-weight="normal" fill="#ffffff">1,884</text>
<text x="1485.33" y="256.00" textLength="28.92" lengthAdjust="spacingAndGlyphs" font-family="'DejaVu Sans', 'Liberation Sans', sans-serif" font-size="11" font-weight="normal" fill="#ffffff">1,883</text>
<text x="1485.33" y="271.00" textLength="28.92" lengthAdjust="spacingAndGlyphs" font-family="'DejaVu Sans', 'Liberation Sans', sans-serif" font-size="11" font-weight="normal" fill="#ffffff">1,882</text>
<text x="1485.33" y="286.00" textLength="28.92" lengthAdjust="spacingAndGlyphs" font-family="'DejaVu Sans', 'Liberation Sans', sans-serif" font-size="11" font-weight="normal" fill="#ffffff">1,881</text>
<text x="1485.38" y="301.00" textLength="27.84" lengthAdjust="spacingAndGlyphs" font-family="'DejaVu Sans', 'Liberation Sans', sans-serif" font-size="11" font-weight="normal" fill="#ffffff">1,880</text>
<text x="1485.38" y="317.00" textLength="27.84" lengthAdjust="spacingAndGlyphs" font-family="'DejaVu Sans', 'Liberation Sans', sans-serif" font-size="11" font-weight="normal" fill="#ffffff">1,879</text>
<text x="1485.38" y="332.00" textLength="27.84" lengthAdjust="spacingAndGlyphs" font-family="'DejaVu Sans', 'Liberation Sans', sans-serif" font-size="11" font-weight="normal" fill="#ffffff">1,878</text>
<text x="1485.33" y="347.00" textLength="28.92" lengthAdjust="spacingAndGlyphs" font-family="'DejaVu Sans', 'Liberation Sans', sans-serif" font-size="11" font-weight="normal" fill="#ffffff">1,877</text>
<text x="1485.38" y="362.00" textLength="27.84" lengthAdjust="spacingAndGlyphs" font-family="'DejaVu Sans', 'Liberation Sans', sans-serif" font-size="11" font-weight="normal" fill="#ffffff">1,876</text>
<text x="1485.33" y="377.00" textLength="28.92" lengthAdjust="spacingAndGlyphs" font-family="'DejaVu Sans', 'Liberation Sans', sans-serif" font-size="11" font-weight="normal" fill="#ffffff">1,875</text>
<text x="1485.38" y="392.00" textLength="27.84" lengthAdjust="spacingAndGlyphs" font-family="'DejaVu Sans', 'Liberation Sans', sans-serif" font-size="11" font-weight="normal" fill="#ffffff">1,874</text>
<text x="1485.33" y="408.00" textLength="28.92" lengthAdjust="spacingAndGlyphs" font-family="'DejaVu Sans', 'Liberation Sans', sans-serif" font-size="11" font-weight="normal" fill="#ffffff">1,873</text>
<text x="1485.33" y="423.00" textLength="28.92" lengthAdjust="spacingAndGlyphs" font-family="'DejaVu Sans', 'Liberation Sans', sans-serif" font-size="11" font-weight="normal" fill="#ffffff">1,872</text>
<text x="1485.33" y="438.00" textLength="28.92" lengthAdjust="spacingAndGlyphs" font-family="'DejaVu Sans', 'Liberation Sans', sans-serif" font-size="11" font-weight="normal" fill="#ffffff">1,871</text>
<text x="1485.38" y="453.00" textLength="27.84" lengthAdjust="spacingAndGlyphs" font-family="'DejaVu Sans', 'Liberation Sans', sans-serif" font-size="11" font-weight="normal" fill="#ffffff">1,870</text>
<text x="1485.38" y="468.00" textLength="27.84" lengthAdjust="spacingAndGlyphs" font-family="'DejaVu Sans', 'Liberation Sans', sans-serif" font-size="11" font-weight="normal" fill="#ffffff">1,869</text>
<text x="1485.38" y="483.00" textLength="27.84" lengthAdjust="spacingAndGlyphs" font-family="'DejaVu Sans', 'Liberation Sans', sans-serif" font-size="11" font-weight="normal" fill="#ffffff">1,868</text>
<text x="1485.33" y="499.00" textLength="28.92" lengthAdjust="spacingAndGlyphs" font-family="'DejaVu Sans', 'Liberation Sans', sans-serif" font-size="11" font-weight="normal" fill="#ffffff">1,867</text>
<text x="1485.38" y="514.00" textLength="27.84" lengthAdjust="spacingAndGlyphs" font-family="'DejaVu Sans', 'Liberation Sans', sans-serif" font-size="11" font-weight="normal" fill="#ffffff">1,866</text>
<text x="1485.33" y="529.00" textLength="28.92" lengthAdjust="spacingAndGlyphs" font-family="'DejaVu Sans', 'Liberation Sans', sans-serif" font-size="11" font-weight="normal" fill="#ffffff">1,865</text>
<text x="1485.38" y="544.00" textLength="27.84" lengthAdjust="spacingAndGlyphs" font-family="'DejaVu Sans', 'Liberation Sans', sans-serif" font-size="11" font-weight="normal" fill="#ffffff">1,864</text>
<text x="1485.33" y="559.00" textLength="28.92" lengthAdjust="spacingAndGlyphs" font-family="'DejaVu Sans', 'Liberation Sans', sans-serif" font-size="11" font-weight="normal" fill="#ffffff">1,863</text>
<text x="1485.33" y="574.00" textLength="28.92" lengthAdjust="spacingAndGlyphs" font-family="'DejaVu Sans', 'Liberation Sans', sans-serif" font-size="11" font-weight="normal" fill="#ffffff">1,862</text>
<text x="1485.33" y="590.00" textLength="28.92" lengthAdjust="spacingAndGlyphs" font-family="'DejaVu Sans', 'Liberation Sans', sans-serif" font-size="11" font-weight="normal" fill="#ffffff">1,861</text>
<text x="1485.38" y="605.00" textLength="27.84" lengthAdjust="spacingAndGlyphs" font-family="'DejaVu Sans', 'Liberation Sans', sans-serif" font-size="11" font-weight="normal" fill="#ffffff">1,860</text>
<text x="1485.38" y="620.00" textLength="27.84" lengthAdjust="spacingAndGlyphs" font-family="'DejaVu Sans', 'Liberation Sans', sans-serif" font-size="11" font-weight="normal" fill="#ffffff">1,859</text>
<text x="1485.38" y="635.00" textLength="27.84" lengthAdjust="spacingAndGlyphs" font-family="'DejaVu Sans', 'Liberation Sans', sans-serif" font-size="11" font-weight="normal" fill="#ffffff">1,858</text>
<text x="1485.33" y="650.00" textLength="28.92" lengthAdjust="spacingAndGlyphs" font-family="'DejaVu Sans', 'Liberation Sans', sans-serif" font-size="11" font-weight="normal" fill="#ffffff">1,857</text>
<text x="1485.38" y="666.00" textLength="27.84" lengthAdjust="spacingAndGlyphs" font-family="'DejaVu Sans', 'Liberation Sans', sans-serif" font-size="11" font-weight="normal" fill="#ffffff">1,856</text>
<text x="1485.33" y="681.00" textLength="28.92" lengthAdjust="spacingAndGlyphs" font-family="'DejaVu Sans', 'Liberation Sans', sans-serif" font-size="11" font-weight="normal" fill="#ffffff">1,855</text>
<text x="1485.38" y="696.00" textLength="27.84" lengthAdjust="spacingAndGlyphs" font-family="'DejaVu Sans', 'Liberation Sans', sans-serif" font-size="11" font-weight="normal" fill="#ffffff">1,854</text>
<text x="1485.33" y="711.00" textLength="28.92" lengthAdjust="spacingAndGlyphs" font-family="'DejaVu Sans', 'Liberation Sans', sans-serif" font-size="11" font-weight="normal" fill="#ffffff">1,853</text>
<text x="1485.33" y="726.00" textLength="28.92" lengthAdjust="spacingAndGlyphs" font-family="'DejaVu Sans', 'Liberation Sans', sans-serif" font-size="11" font-weight="normal" fill="#ffffff">1,852</text>
<text x="1485.33" y="741.00" textLength="28.92" lengthAdjust="spacingAndGlyphs" font-family="'DejaVu Sans', 'Liberation Sans', sans-serif" font-size="11" font-weight="normal" fill="#ffffff">1,851</text>
<text x="1485.38" y="757.00" textLength="27.84" lengthAdjust="spacingAndGlyphs" font-family="'DejaVu Sans', 'Liberation Sans', sans-serif" font-size="11" font-weight="normal" fill="#ffffff">1,850</text>
<text x="1485.38" y="772.00" textLength="27.84" lengthAdjust="spacingAndGlyphs" font-family="'DejaVu Sans', 'Liberation Sans', sans-serif" font-size="11" font-weight="normal" fill="#ffffff">1,849</text>
<text x="1485.38" y="787.00" textLength="27.84" lengthAdjust="spacingAndGlyphs" font-family="'DejaVu Sans', 'Liberation Sans', sans-serif" font-size="11" font-weight="normal" fill="#ffffff">1,848</text>
<text x="1485.33" y="802.00" textLength="28.92" lengthAdjust="spacingAndGlyphs" font-family="'DejaVu Sans', 'Liberation Sans', sans-serif" font-size="11" font-weight="normal" fill="#ffffff">1,847</text>
<text x="1485.38" y="817.00" textLength="27.84" lengthAdjust="spacingAndGlyphs" font-family="'DejaVu Sans', 'Liberation Sans', sans-serif" font-size="11" font-weight="normal" fill="#ffffff">1,846</text>
<text x="1485.33" y="832.00" textLength="28.92" lengthAdjust="spacingAndGlyphs" font-family="'DejaVu Sans', 'Liberation Sans', sans-serif" font-size="11" font-weight="normal" fill="#ffffff">1,845</text>
<text x="1485.38" y="848.00" textLength="27.84" lengthAdjust="spacingAndGlyphs" font-family="'DejaVu Sans', 'Liberation Sans', sans-serif" font-size="11" font-weight="normal" fill="#ffffff">1,844</text>
<text x="1485.33" y="863.00" textLength="28.92" lengthAdjust="spacingAndGlyphs" font-family="'DejaVu Sans', 'Liberation Sans', sans-serif" font-size="11" font-weight="normal" fill="#ffffff">1,843</text>
<text x="1485.33" y="878.00" textLength="28.92" lengthAdjust="spacingAndGlyphs" font-family="'DejaVu Sans', 'Liberation Sans', sans-serif" font-size="11" font-weight="normal" fill="#ffffff">1,842</text>
<text x="1485.33" y="893.00" textLength="28.92" lengthAdjust="spacingAndGlyphs" font-family="'DejaVu Sans', 'Liberation Sans', sans-serif" font-size="11" font-weight="normal" fill="#ffffff">1,841</text>
<text x="1485.38" y="908.00" textLength="27.84" lengthAdjust="spacingAndGlyphs" font-family="'DejaVu Sans', 'Liberation Sans', sans-serif" font-size="11" font-weight="normal" fill="#ffffff">1,840</text>
<text x="4.96" y="326.00" textLength="22.68" lengthAdjust="spacingAndGlyphs" font-family="'DejaVu Sans', 'Liberation Sans', sans-serif" font-size="10" font-weight="normal" fill="#f8f800">(b)?</text>
<text x="11.41" y="345.00" textLength="11.41" lengthAdjust="spacingAndGlyphs" font-family="'DejaVu Sans', 'Liberation Sans', sans-serif" font-size="10" font-weight="normal" fill="#ffa000">y?</text>
<text x="77.73" y="388.00" textLength="11.70" lengthAdjust="spacingAndGlyphs" font-family="'DejaVu Sans', 'Liberation Sans', sans-serif" font-size="10" font-weight="normal" fill="#ffa000">ii?</text>
<text x="62.13" y="516.00" textLength="8.74" lengthAdjust="spacingAndGlyphs" font-family="'DejaVu Sans', 'Liberation Sans', sans-serif" font-size="10" font-weight="normal" fill="#ffa000">i?</text>
<text x="267.73" y="648.00" textLength="15.12" lengthAdjust="spacingAndGlyphs" font-family="'DejaVu Sans', 'Liberation Sans', sans-serif" font-size="10" font-weight="normal" fill="#ffa000">iv?</text>
<text x="337.77" y="730.00" textLength="18.72" lengthAdjust="spacingAndGlyphs" font-family="'DejaVu Sans', 'Liberation Sans', sans-serif" font-size="10" font-weight="normal" fill="#00ff00">[i]?</text>
<text x="242.93" y="887.00" textLength="14.89" lengthAdjust="spacingAndGlyphs" font-family="'DejaVu Sans', 'Liberation Sans', sans-serif" font-size="10" font-weight="normal" fill="#ffa000">iii?</text>
<text x="230.00" y="904.00" textLength="39.05" lengthAdjust="spacingAndGlyphs" font-family="'DejaVu Sans', 'Liberation Sans', sans-serif" font-size="10" font-weight="normal" fill="#ffffff">Alt&#39;&#39;&#39;: B</text>
<text x="331.39" y="873.00" textLength="10.69" lengthAdjust="spacingAndGlyphs" font-family="'DejaVu Sans', 'Liberation Sans', sans-serif" font-size="10" font-weight="normal" fill="#ffa000">v?</text>
<text x="325.17" y="888.00" textLength="20.65" lengthAdjust="spacingAndGlyphs" font-family="'DejaVu Sans', 'Liberation Sans', sans-serif" font-size="10" font-weight="normal" fill="#f8f800">(c)?</text>
<text x="326.75" y="900.00" textLength="22.08" lengthAdjust="spacingAndGlyphs" font-family="'DejaVu Sans', 'Liberation Sans', sans-serif" font-size="10" font-weight="normal" fill="#00ff00">[y]?</text>
<text x="331.16" y="911.00" textLength="12.69" lengthAdjust="spacingAndGlyphs" font-family="'DejaVu Sans', 'Liberation Sans', sans-serif" font-size="10" font-weight="normal" fill="#1e90ff">B?</text>
<text x="429.18" y="855.00" textLength="21.65" lengthAdjust="spacingAndGlyphs" font-family="'DejaVu Sans', 'Liberation Sans', sans-serif" font-size="10" font-weight="normal" fill="#00ff00">[ii]?</text>
<text x="509.17" y="458.00" textLength="18.66" lengthAdjust="spacingAndGlyphs" font-family="'DejaVu Sans', 'Liberation Sans', sans-serif" font-size="10" font-weight="normal" fill="#f8f800">(i)?</text>
<text x="649.18" y="755.00" textLength="21.65" lengthAdjust="spacingAndGlyphs" font-family="'DejaVu Sans', 'Liberation Sans', sans-serif" font-size="10" font-weight="normal" fill="#f8f800">(ii)?</text>
<text x="714.13" y="366.00" textLength="8.74" lengthAdjust="spacingAndGlyphs" font-family="'DejaVu Sans', 'Liberation Sans', sans-serif" font-size="10" font-weight="normal" fill="#ffa000">i?</text>
<text x="760.16" y="525.00" textLength="11.26" lengthAdjust="spacingAndGlyphs" font-family="'DejaVu Sans', 'Liberation Sans', sans-serif" font-size="10" font-weight="normal" fill="#ffa000">ii?</text>
<text x="1197.73" y="111.00" textLength="15.12" lengthAdjust="spacingAndGlyphs" font-family="'DejaVu Sans', 'Liberation Sans', sans-serif" font-size="10" font-weight="normal" fill="#ffa000">iii?</text>
<text x="1292.73" y="249.00" textLength="15.12" lengthAdjust="spacingAndGlyphs" font-family="'DejaVu Sans', 'Liberation Sans', sans-serif" font-size="10" font-weight="normal" fill="#ffa000">iv?</text>
<text x="42.18" y="72.00" textLength="80.82" lengthAdjust="spacingAndGlyphs" font-family="'DejaVu Sans', 'Liberation Sans', sans-serif" font-size="10" font-weight="normal" fill="#ffffff">1 minute chart</text>
</svg></body></html>
